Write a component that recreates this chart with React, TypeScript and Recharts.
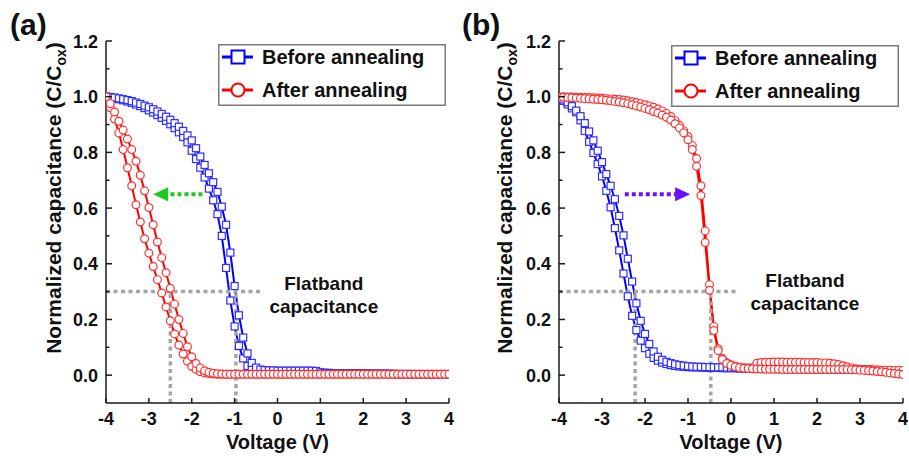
import React from "react";
import {
  ComposedChart,
  Line,
  XAxis,
  YAxis,
  ReferenceLine,
  ReferenceDot,
  Legend,
} from "recharts";

// sweep voltages (V), 0.1 V step
const volts = [
  -4.0, -3.9, -3.8, -3.7, -3.6, -3.5, -3.4, -3.3, -3.2, -3.1,
  -3.0, -2.9, -2.8, -2.7, -2.6, -2.5, -2.4, -2.3, -2.2, -2.1,
  -2.0, -1.9, -1.8, -1.7, -1.6, -1.5, -1.4, -1.3, -1.2, -1.1,
  -1.0, -0.9, -0.8, -0.7, -0.6, -0.5, -0.4, -0.3, -0.2, -0.1,
  0.0, 0.1, 0.2, 0.3, 0.4, 0.5, 0.6, 0.7, 0.8, 0.9,
  1.0, 1.1, 1.2, 1.3, 1.4, 1.5, 1.6, 1.7, 1.8, 1.9,
  2.0, 2.1, 2.2, 2.3, 2.4, 2.5, 2.6, 2.7, 2.8, 2.9,
  3.0, 3.1, 3.2, 3.3, 3.4, 3.5, 3.6, 3.7, 3.8, 3.9,
  4.0,
];

// (a) before annealing, two sweep directions
const aBeforeDown = [
  1.0, 0.998, 0.995, 0.991, 0.987, 0.983, 0.978, 0.972, 0.966, 0.959,
  0.951, 0.943, 0.934, 0.924, 0.913, 0.901, 0.887, 0.872, 0.855, 0.836,
  0.806, 0.776, 0.745, 0.71, 0.67, 0.628, 0.578, 0.5, 0.385, 0.268,
  0.175, 0.105, 0.06, 0.033, 0.021, 0.016, 0.014, 0.013, 0.012, 0.012,
  0.011, 0.011, 0.011, 0.01, 0.01, 0.01, 0.01, 0.009, 0.009, 0.009,
  0.008, 0.008, 0.008, 0.007, 0.007, 0.007, 0.007, 0.006, 0.006, 0.006,
  0.006, 0.005, 0.005, 0.005, 0.005, 0.005, 0.004, 0.004, 0.004, 0.004,
  0.004, 0.004, 0.003, 0.003, 0.003, 0.003, 0.003, 0.003, 0.003, 0.003,
  0.003,
];
const aBeforeUp = [
  1.0, 0.999, 0.997, 0.994, 0.991, 0.988, 0.984, 0.979, 0.974, 0.968,
  0.962, 0.955, 0.947, 0.938, 0.928, 0.917, 0.905, 0.892, 0.877, 0.861,
  0.843, 0.815, 0.785, 0.755, 0.725, 0.693, 0.658, 0.605, 0.54, 0.44,
  0.32, 0.215, 0.135, 0.078, 0.044, 0.027, 0.02, 0.018, 0.017, 0.017,
  0.016, 0.016, 0.016, 0.016, 0.016, 0.016, 0.016, 0.016, 0.016, 0.015,
  0.01, 0.008, 0.008, 0.007, 0.007, 0.007, 0.007, 0.006, 0.006, 0.006,
  0.006, 0.006, 0.005, 0.005, 0.005, 0.005, 0.005, 0.005, 0.004, 0.004,
  0.004, 0.004, 0.004, 0.004, 0.004, 0.004, 0.004, 0.004, 0.004, 0.004,
  0.004,
];
// (a) after annealing
const aAfterDown = [
  0.99, 0.96, 0.92, 0.87, 0.81, 0.745, 0.68, 0.612, 0.55, 0.49,
  0.438, 0.39, 0.343, 0.295, 0.245, 0.195, 0.148, 0.108, 0.076, 0.05,
  0.031, 0.02, 0.012, 0.008, 0.006, 0.004, 0.003, 0.003, 0.003, 0.003,
  0.003, 0.003, 0.003, 0.003, 0.003, 0.003, 0.003, 0.003, 0.003, 0.003,
  0.003, 0.003, 0.003, 0.003, 0.003, 0.003, 0.003, 0.003, 0.003, 0.003,
  0.003, 0.003, 0.003, 0.003, 0.003, 0.003, 0.003, 0.003, 0.003, 0.003,
  0.003, 0.003, 0.003, 0.003, 0.003, 0.003, 0.003, 0.003, 0.003, 0.003,
  0.003, 0.003, 0.003, 0.003, 0.003, 0.003, 0.003, 0.003, 0.003, 0.003,
  0.003,
];
const aAfterUp = [
  1.0, 0.975, 0.945, 0.912, 0.88, 0.848, 0.81, 0.768, 0.718, 0.662,
  0.602, 0.54, 0.478, 0.422, 0.368, 0.312, 0.255, 0.2, 0.15, 0.102,
  0.066, 0.042, 0.026, 0.016, 0.01, 0.007, 0.005, 0.004, 0.003, 0.003,
  0.003, 0.003, 0.003, 0.003, 0.003, 0.003, 0.003, 0.003, 0.003, 0.003,
  0.003, 0.003, 0.003, 0.003, 0.003, 0.003, 0.003, 0.003, 0.003, 0.003,
  0.003, 0.003, 0.003, 0.003, 0.003, 0.003, 0.003, 0.003, 0.003, 0.003,
  0.003, 0.003, 0.003, 0.003, 0.003, 0.003, 0.003, 0.003, 0.003, 0.003,
  0.003, 0.003, 0.003, 0.003, 0.003, 0.003, 0.003, 0.003, 0.003, 0.003,
  0.003,
];

// (b) before annealing (sweep stops near 3.2 V)
const bBeforeDown = [
  0.99, 0.985, 0.972, 0.958, 0.944, 0.915, 0.877, 0.838, 0.798, 0.758,
  0.714, 0.662, 0.603, 0.528, 0.448, 0.365, 0.283, 0.213, 0.162, 0.124,
  0.097, 0.077, 0.062, 0.052, 0.045, 0.04, 0.036, 0.033, 0.031, 0.03,
  0.029, 0.028, 0.028, 0.027, 0.027, 0.026, 0.026, 0.026, 0.025, 0.025,
  0.025, 0.025, 0.024, 0.024, 0.024, 0.024, 0.023, 0.023, 0.023, 0.023,
  0.023, 0.022, 0.022, 0.022, 0.022, 0.022, 0.021, 0.021, 0.021, 0.021,
  0.021, 0.021, 0.02, 0.02, 0.02, 0.02, 0.02, 0.02, 0.02, 0.02,
  0.02, 0.02, 0.019, null, null, null, null, null, null, null,
  null,
];
const bBeforeUp = [
  0.995, 0.99, 0.98, 0.966, 0.95, 0.93, 0.905, 0.875, 0.843, 0.806,
  0.765, 0.722, 0.68, 0.632, 0.572, 0.502, 0.418, 0.336, 0.258, 0.195,
  0.148, 0.112, 0.085, 0.066, 0.055, 0.048, 0.043, 0.039, 0.036, 0.034,
  0.032, 0.031, 0.03, 0.03, 0.029, 0.029, 0.028, 0.028, 0.028, 0.027,
  0.027, 0.027, 0.026, 0.026, 0.026, 0.026, 0.025, 0.025, 0.025, 0.025,
  0.025, 0.024, 0.024, 0.024, 0.024, 0.024, 0.023, 0.023, 0.023, 0.023,
  0.023, 0.023, 0.022, 0.022, 0.022, 0.022, 0.022, 0.022, 0.021, 0.021,
  0.021, 0.021, 0.021, null, null, null, null, null, null, null,
  null,
];
// (b) after annealing
const bAfterDown = [
  1.0, 1.0, 0.999, 0.999, 0.998, 0.998, 0.997, 0.997, 0.996, 0.995,
  0.994, 0.993, 0.992, 0.991, 0.99, 0.988, 0.985, 0.982, 0.979, 0.975,
  0.971, 0.967, 0.962, 0.956, 0.949, 0.94, 0.929, 0.914, 0.897, 0.878,
  0.857, 0.825, 0.778, 0.68, 0.518, 0.325, 0.175, 0.095, 0.06, 0.045,
  0.037, 0.032, 0.028, 0.026, 0.025, 0.026, 0.043, 0.045, 0.046, 0.046,
  0.047, 0.047, 0.047, 0.046, 0.046, 0.046, 0.046, 0.045, 0.045, 0.045,
  0.045, 0.044, 0.044, 0.043, 0.041, 0.038, 0.034, 0.03, 0.026, 0.023,
  0.021, 0.02, 0.02, 0.019, 0.019, 0.018, 0.018, 0.018, 0.017, 0.017,
  0.017,
];
const bAfterUp = [
  0.998, 0.998, 0.997, 0.996, 0.995, 0.994, 0.993, 0.992, 0.991, 0.99,
  0.989, 0.987, 0.985, 0.983, 0.981, 0.978, 0.975, 0.971, 0.967, 0.963,
  0.958, 0.953, 0.947, 0.941, 0.934, 0.926, 0.916, 0.903, 0.888, 0.87,
  0.845, 0.81, 0.75, 0.645, 0.476, 0.305, 0.16, 0.088, 0.056, 0.042,
  0.035, 0.03, 0.027, 0.025, 0.024, 0.023, 0.022, 0.022, 0.021, 0.021,
  0.021, 0.021, 0.02, 0.02, 0.02, 0.02, 0.02, 0.02, 0.02, 0.02,
  0.02, 0.02, 0.02, 0.02, 0.02, 0.02, 0.02, 0.02, 0.019, 0.019,
  0.018, 0.017, 0.016, 0.015, 0.013, 0.012, 0.01, 0.008, 0.006, 0.004,
  0.002,
];

const seriesNames = ["Before annealing", "After annealing"];
const xTicks = [-4, -3, -2, -1, 0, 1, 2, 3, 4];
const yTicks = [0, 0.1, 0.2, 0.3, 0.4, 0.5, 0.6, 0.7, 0.8, 0.9, 1.0, 1.1, 1.2];
const flatbandC = 0.3;

const FONT = "'Liberation Sans', Arial, sans-serif";
const AXIS = "#1a1a1a";
const BLUE = "#0000ff";
const RED = "#ff0000";
const GREY = "#a6a6a6";

const rows = (c: (number | null)[]) => volts.map((v, i) => ({ v, c: c[i] }));

const Square = (p: any) => {
  const k = `s${p.index}`;
  if (p.cx == null || p.cy == null || Number.isNaN(p.cy)) return <g key={k} />;
  return (
    <rect key={k} x={p.cx - 3.5} y={p.cy - 3.5} width={7} height={7}
      fill="#fff" stroke="#2e2eff" strokeWidth={1.2} />
  );
};

const Circle = (p: any) => {
  const k = `c${p.index}`;
  if (p.cx == null || p.cy == null || Number.isNaN(p.cy)) return <g key={k} />;
  return <circle key={k} cx={p.cx} cy={p.cy} r={3.9} fill="#fff" stroke="#ff2e2e" strokeWidth={1.2} />;
};

const YTick = (p: any) => {
  const v = p.payload.value as number;
  const ax = p.x + 8;
  const major = Math.round(v * 10) % 2 === 0;
  return (
    <g>
      <line x1={ax} x2={ax + (major ? 6 : 3.5)} y1={p.y} y2={p.y} stroke={AXIS} strokeWidth={1.5} />
      {major && (
        <text x={p.x} y={p.y} dy={6.5} textAnchor="end" fontFamily={FONT}
          fontSize={18} fontWeight="bold" fill="#111">
          {v.toFixed(1)}
        </text>
      )}
    </g>
  );
};

const XTick = (p: any) => (
  <g>
    <line x1={p.x} x2={p.x} y1={p.y} y2={p.y - 5} stroke={AXIS} strokeWidth={1.5} />
    <text x={p.x} y={p.y + 22} textAnchor="middle" fontFamily={FONT}
      fontSize={18} fontWeight="bold" fill="#111">
      {p.payload.value}
    </text>
  </g>
);

const yTitle = (baseX: number) => (props: any) => {
  const cx = (props.viewBox?.x ?? 0) + baseX;
  const cy = 198;
  return (
    <text x={cx} y={cy} transform={`rotate(-90 ${cx} ${cy})`} textAnchor="middle"
      fontFamily={FONT} fontSize={21} fontWeight="bold" fill="#111">
      Normalized capacitance (C/C
      <tspan dy={5} fontSize={14}>ox</tspan>
      <tspan dy={-5}>)</tspan>
    </text>
  );
};

const xTitle = (props: any) => {
  const vb = props.viewBox;
  return (
    <text x={vb.x + vb.width / 2} y={vb.y + 46} textAnchor="middle"
      fontFamily={FONT} fontSize={20} fontWeight="bold" fill="#111">
      Voltage (V)
    </text>
  );
};

const legendKeys = [
  { name: seriesNames[0], color: BLUE, shape: "square" },
  { name: seriesNames[1], color: RED, shape: "circle" },
];

const LegendBox = () => (
  <svg width={228} height={62} style={{ display: "block" }}>
    <rect x={0.75} y={0.75} width={226.5} height={60.5} fill="#fff" stroke="#7a7a7a" strokeWidth={1.5} />
    {legendKeys.map((it, i) => {
      const cy = 13 + i * 33;
      return (
        <g key={it.name}>
          <line x1={4} x2={35} y1={cy} y2={cy} stroke={it.color} strokeWidth={3} />
          {it.shape === "square" ? (
            <rect x={13.5} y={cy - 6.5} width={13} height={13} fill="#fff" stroke={it.color} strokeWidth={2} />
          ) : (
            <circle cx={20} cy={cy} r={6.5} fill="#fff" stroke={it.color} strokeWidth={2} />
          )}
          <text x={44} y={cy + 7} fontFamily={FONT} fontSize={20} fontWeight="bold" fill="#111">
            {it.name}
          </text>
        </g>
      );
    })}
  </svg>
);

const arrowHead = (dir: number, color: string) => (p: any) => (
  <polygon
    points={`${p.cx},${p.cy} ${p.cx - dir * 15},${p.cy - 7} ${p.cx - dir * 15},${p.cy + 7}`}
    fill={color}
  />
);

const flatbandNote = (p: any) => (
  <text x={p.cx} y={p.cy} textAnchor="middle" fontFamily={FONT} fontSize={19} fontWeight="bold" fill="#111">
    <tspan x={p.cx}>Flatband</tspan>
    <tspan x={p.cx} dy={23}>capacitance</tspan>
  </text>
);

type PanelProps = {
  left: number;
  width: number;
  yAxisWidth: number;
  titleX: number;
  before: [(number | null)[], (number | null)[]];
  after: [(number | null)[], (number | null)[]];
  hLineEnd: number;
  vLines: number[];
  arrow: { from: number; base: number; tip: number; y: number; dir: number; color: string };
  note: { x: number; y: number };
  legendPos: { left: number; top: number };
};

function Panel(props: PanelProps) {
  const { arrow } = props;
  return (
    <div style={{ position: "absolute", left: props.left, top: 0 }}>
      <ComposedChart width={props.width} height={456} margin={{ top: 41, right: 6, bottom: 0, left: 0 }}>
        <XAxis dataKey="v" type="number" domain={[-4, 4]} allowDataOverflow ticks={xTicks} interval={0}
          height={53} tickSize={0} tickMargin={0} tick={<XTick />}
          axisLine={{ stroke: AXIS, strokeWidth: 1.5 }} label={{ content: xTitle }} />
        <XAxis xAxisId="top" orientation="top" type="number" domain={[-4, 4]} height={0}
          tick={false} tickLine={false} axisLine={{ stroke: AXIS, strokeWidth: 1.5 }} />
        <YAxis type="number" domain={[-0.1, 1.2]} allowDataOverflow ticks={yTicks} interval={0}
          width={props.yAxisWidth} tickSize={0} tickMargin={8} tick={<YTick />}
          axisLine={{ stroke: AXIS, strokeWidth: 1.5 }} label={{ content: yTitle(props.titleX) }} />
        <YAxis yAxisId="right" orientation="right" type="number" domain={[-0.1, 1.2]} width={0}
          tick={false} tickLine={false} axisLine={{ stroke: AXIS, strokeWidth: 1.5 }} />
        <Legend layout="vertical" align="center" verticalAlign="middle" content={<LegendBox />}
          wrapperStyle={{ left: props.legendPos.left, top: props.legendPos.top, width: 228, height: 62 }} />

        <Line data={rows(props.before[0])} dataKey="c" name={seriesNames[0]} legendType="square"
          stroke={BLUE} strokeWidth={2} dot={Square} activeDot={false} isAnimationActive={false} />
        <Line data={rows(props.before[1])} dataKey="c" name={seriesNames[0]} legendType="none"
          stroke={BLUE} strokeWidth={2} dot={Square} activeDot={false} isAnimationActive={false} />
        <Line data={rows(props.after[0])} dataKey="c" name={seriesNames[1]} legendType="circle"
          stroke={RED} strokeWidth={2} dot={Circle} activeDot={false} isAnimationActive={false} />
        <Line data={rows(props.after[1])} dataKey="c" name={seriesNames[1]} legendType="none"
          stroke={RED} strokeWidth={2} dot={Circle} activeDot={false} isAnimationActive={false} />

        <ReferenceLine segment={[{ x: -4, y: flatbandC }, { x: props.hLineEnd, y: flatbandC }]}
          stroke={GREY} strokeWidth={3.5} strokeDasharray="4 3.5" />
        {props.vLines.map((x) => (
          <ReferenceLine key={x} segment={[{ x, y: -0.1 }, { x, y: flatbandC }]}
            stroke={GREY} strokeWidth={3.5} strokeDasharray="4 3.5" />
        ))}
        <ReferenceLine segment={[{ x: arrow.from, y: arrow.y }, { x: arrow.base, y: arrow.y }]}
          stroke={arrow.color} strokeWidth={4} strokeDasharray="4 3" />
        <ReferenceDot x={arrow.tip} y={arrow.y} r={7} shape={arrowHead(arrow.dir, arrow.color)} />
        <ReferenceDot x={props.note.x} y={props.note.y} r={1} shape={flatbandNote} />
      </ComposedChart>
    </div>
  );
}

const labelStyle: React.CSSProperties = {
  position: "absolute",
  top: 7,
  fontFamily: FONT,
  fontSize: 30,
  fontWeight: "bold",
  color: "#111",
  lineHeight: "36px",
};

export default function App() {
  return (
    <div style={{ position: "fixed", left: 0, top: 0, width: 909, height: 456, background: "#fff", overflow: "hidden" }}>
      <Panel
        left={0} width={455} yAxisWidth={106} titleX={61}
        before={[aBeforeDown, aBeforeUp]} after={[aAfterDown, aAfterUp]}
        hLineEnd={-0.33} vLines={[-2.5, -0.97]}
        arrow={{ from: -1.75, base: -2.58, tip: -2.9, y: 0.65, dir: -1, color: "#1ec81e" }}
        note={{ x: 1.08, y: 0.306 }}
        legendPos={{ left: 218, top: 44 }}
      />
      <Panel
        left={455} width={454} yAxisWidth={104} titleX={57}
        before={[bBeforeDown, bBeforeUp]} after={[bAfterDown, bAfterUp]}
        hLineEnd={0.16} vLines={[-2.23, -0.47]}
        arrow={{ from: -2.47, base: -1.2, tip: -0.95, y: 0.65, dir: 1, color: "#6a10ff" }}
        note={{ x: 1.72, y: 0.317 }}
        legendPos={{ left: 216, top: 45 }}
      />
      <div style={{ ...labelStyle, left: 10 }}>(a)</div>
      <div style={{ ...labelStyle, left: 462 }}>(b)</div>
    </div>
  );
}
